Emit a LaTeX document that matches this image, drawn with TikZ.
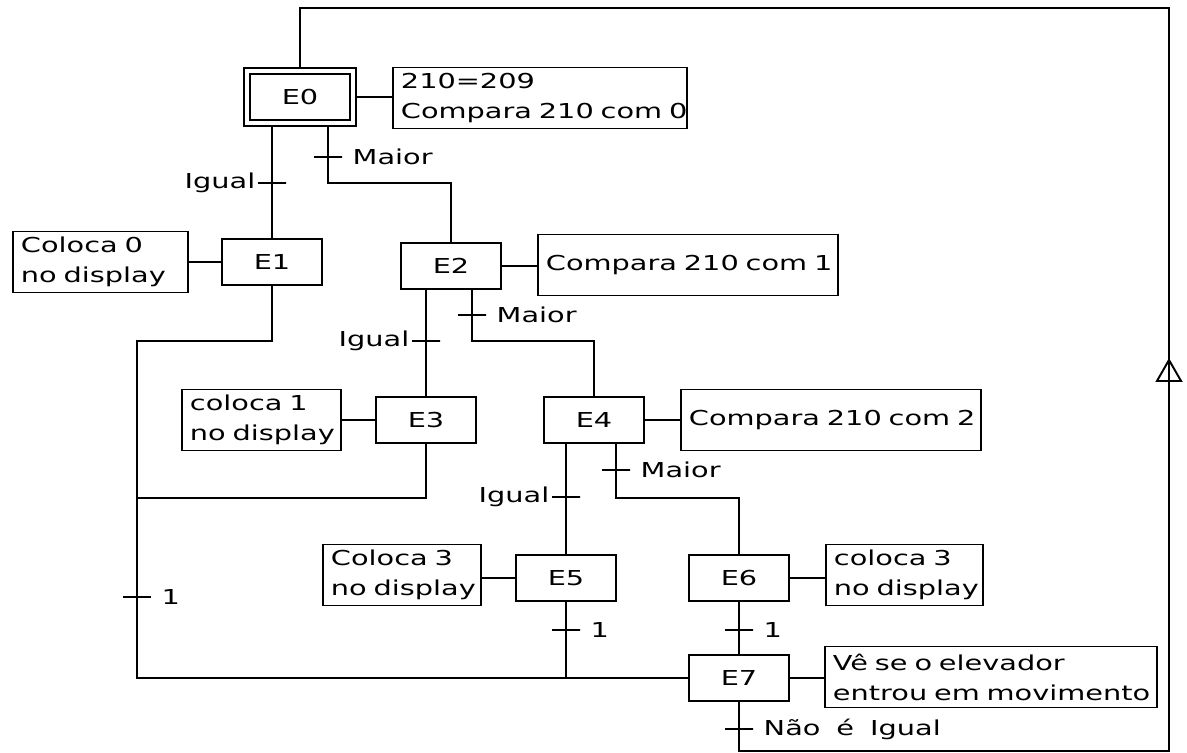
\documentclass[tikz,border=0pt]{standalone}
\usepackage{fontspec}
\newfontfamily\cadfont[FakeStretch=1.4]{DejaVu Sans}
\newcommand\cadsetup{\cadfont\fontsize{11.7}{17}\selectfont\fontdimen2\font=0.32cm\relax\hyphenpenalty=10000\relax}
\usetikzlibrary{arrows.meta,fit}

\begin{document}
\begin{tikzpicture}[x=0.02cm,y=-0.02cm,line width=1.1pt,
  font=\cadsetup,
  stepbox/.style={draw,minimum width=2cm,minimum height=0.92cm,inner sep=0pt},
  actbox/.style={draw,anchor=west,align=left,text width=#1,inner xsep=0.16cm,inner ysep=0pt,minimum height=1.22cm},
  trans/.style={draw,minimum width=0.56cm,minimum height=0pt,inner sep=0pt,outer sep=0pt},
  condL/.style={label={[inner sep=1pt]left:#1}},
  condR/.style={label={[inner sep=1pt,label distance=0.16cm]right:#1}}
]
\useasboundingbox (0,0) rectangle (1187,753);

% steps
\node[stepbox] (e0) at (300,97) {E0};
\node[draw,fit=(e0),inner sep=0.1cm] (e0o) {};
\node[stepbox] (e1) at (272,262) {E1};
\node[stepbox] (e2) at (451,266) {E2};
\node[stepbox] (e3) at (426,420) {E3};
\node[stepbox] (e4) at (594,420) {E4};
\node[stepbox] (e5) at (566,578) {E5};
\node[stepbox] (e6) at (739,578) {E6};
\node[stepbox] (e7) at (739,678) {E7};

% actions
\node[actbox=5.56cm] (c0) at (392,98)  {210=209\\Compara~210~com~0};
\node[actbox=3.18cm] (c1) at (12,262)  {Coloca~0\\no~display};
\node[actbox=5.68cm] (c2) at (537,265) {Compara~210~com~1};
\node[actbox=2.86cm] (c3) at (181,420) {coloca~1\\no~display};
\node[actbox=5.68cm] (c4) at (680,420) {Compara~210~com~2};
\node[actbox=2.84cm] (c5) at (322,575) {Coloca~3\\no~display};
\node[actbox=2.82cm] (c6) at (825,575) {coloca~3\\no~display};
\node[actbox=6.32cm] (c7) at (824,677) {Vê~se~o~elevador\\entrou~em~movimento};

% transitions
\node[trans,condL=Igual] (t1) at (272,183) {};
\node[trans,condR=Maior] (t2) at (328,157) {};
\node[trans,condL=Igual] (t3) at (426,341) {};
\node[trans,condR=Maior] (t4) at (472,315) {};
\node[trans,condL=Igual] (t5) at (566,497) {};
\node[trans,condR=Maior] (t6) at (616,470) {};
\node[trans,condR=1] (t7) at (566,630) {};
\node[trans,condR=1] (t8) at (739,630) {};
\node[trans,condR=1] (t9) at (137,597) {};
\node[trans,condR={Não~é~Igual}] (t10) at (739,729) {};

% bends
\coordinate (j2) at (328,183);
\coordinate (j4) at (472,341);
\coordinate (j6) at (616,498);
\coordinate (m1) at (137,341);
\coordinate (m3) at (137,498);
\coordinate (b1) at (739,751);
\coordinate (b2) at (1169,751);
\coordinate (b3) at (1169,8);
\coordinate (arrb) at (1169,383);
\coordinate (arra) at (1169,358);

% step to action
\draw (e0o.east) -- (c0.west |- e0o.east);
\draw (e1.west) -- (c1.east |- e1.west);
\draw (e2.east) -- (c2.west |- e2.east);
\draw (e3.west) -- (c3.east |- e3.west);
\draw (e4.east) -- (c4.west |- e4.east);
\draw (e5.west) -- (c5.east |- e5.west);
\draw (e6.east) -- (c6.west |- e6.east);
\draw (e7.east) -- (c7.west |- e7.east);

% branches
\draw (e0o.south -| t1.center) -- (t1.center) -- (e1.north);
\draw (e0o.south -| t2.center) -- (t2.center) -- (j2) -| (e2.north);
\draw (e2.south -| t3.center) -- (t3.center) -- (e3.north);
\draw (e2.south -| t4.center) -- (t4.center) -- (j4) -| (e4.north);
\draw (e4.south -| t5.center) -- (t5.center) -- (e5.north);
\draw (e4.south -| t6.center) -- (t6.center) -- (j6) -| (e6.north);

% join into E7
\draw (e1.south) |- (m1) -- (t9.center) |- (e7.west);
\draw (e3.south) |- (m3);
\draw (e5.south) -- (t7.center) -- (t7.center |- e7.west);
\draw (e6.south) -- (t8.center) -- (e7.north);

% loop back to E0
\draw (e7.south) -- (t10.center) -- (b1) -- (b2) -- (b3) -| (e0o.north);
\draw[-{Triangle[open,length=0.48cm,width=0.54cm]}] (arrb) -- (arra);
\end{tikzpicture}
\end{document}
